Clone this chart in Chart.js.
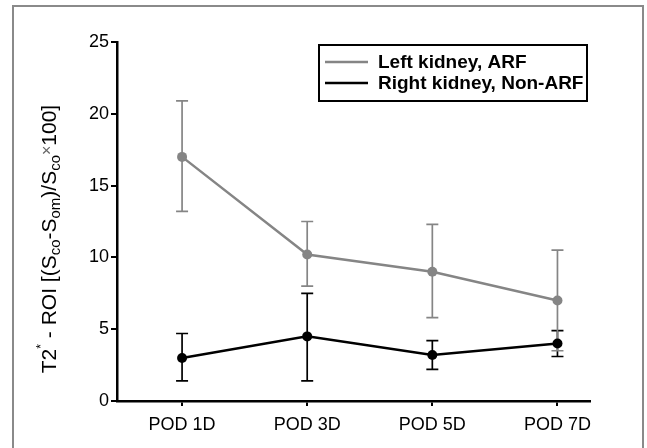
<!DOCTYPE html>
<html>
<head>
<meta charset="utf-8">
<script src="https://cdn.jsdelivr.net/npm/chart.js@4.4.0/dist/chart.umd.min.js"></script>
<style>
  html, body { margin: 0; padding: 0; background: #fff; }
</style>
</head>
<body>
<canvas id="chart" width="647" height="448"></canvas>
<script>
// data
const categories = ['POD 1D', 'POD 3D', 'POD 5D', 'POD 7D'];
const leftMean = [17.0, 10.2, 9.0, 7.0];
const leftLow = [13.2, 8.0, 5.8, 3.5];
const leftHigh = [20.9, 12.5, 12.3, 10.5];
const rightMean = [3.0, 4.5, 3.2, 4.0];
const rightLow = [1.4, 1.4, 2.2, 3.1];
const rightHigh = [4.7, 7.5, 4.2, 4.9];
const yTicks = [0, 5, 10, 15, 20, 25];
const seriesNames = ['Left kidney, ARF', 'Right kidney, Non-ARF'];

const GRAY = '#858585';
const FONT = '"Liberation Sans", Arial, sans-serif';

const toPoints = arr => arr.map((v, i) => ({ x: i, y: v }));

// whiskers drawn through the chart scales
const errorBars = {
  id: 'errorBars',
  beforeDatasetsDraw(chart) {
    const { ctx, scales: { x, y } } = chart;
    // gray first so black stays on top
    [...chart.data.datasets].reverse().forEach(ds => {
      ctx.save();
      ctx.strokeStyle = ds.borderColor;
      ctx.lineWidth = 1.7;
      ds.data.forEach((p, i) => {
        const px = x.getPixelForValue(p.x);
        const top = y.getPixelForValue(ds.errHigh[i]);
        const bot = y.getPixelForValue(ds.errLow[i]);
        ctx.beginPath();
        ctx.moveTo(px, top); ctx.lineTo(px, bot);
        ctx.moveTo(px - 6, top); ctx.lineTo(px + 6, top);
        ctx.moveTo(px - 6, bot); ctx.lineTo(px + 6, bot);
        ctx.stroke();
      });
      ctx.restore();
    });
  }
};

// outer frame, boxed legend, y title with subscripts
const decorations = {
  id: 'decorations',
  afterDraw(chart) {
    const ctx = chart.ctx;
    ctx.save();
    ctx.strokeStyle = '#8a8a8a';
    ctx.lineWidth = 2;
    ctx.strokeRect(13, 6, 630, 470);

    // legend
    ctx.strokeStyle = '#000';
    ctx.lineWidth = 2;
    ctx.strokeRect(319, 45, 268, 56);
    chart.data.datasets.forEach((ds, i) => {
      const ly = 62 + i * 21;
      ctx.strokeStyle = ds.borderColor;
      ctx.lineWidth = 2.5;
      ctx.beginPath();
      ctx.moveTo(325, ly); ctx.lineTo(368, ly);
      ctx.stroke();
      ctx.fillStyle = '#000';
      ctx.font = 'bold 19px ' + FONT;
      ctx.textBaseline = 'middle';
      ctx.fillText(ds.label, 378, ly + 1);
    });

    // y axis title
    const parts = [
      ['T2', 0], ['*', -1], [' - ROI [(S', 0], ['co', 1], ['-S', 0], ['om', 1],
      [')/S', 0], ['co', 1], ['\u00d7', 2], ['100]', 0]
    ];
    const fontFor = k => k === 0 ? '21px ' + FONT
      : k === 2 ? '16px ' + FONT : k === -1 ? '12px ' + FONT : '15px ' + FONT;
    let total = 0;
    parts.forEach(([t, k]) => { ctx.font = fontFor(k); total += ctx.measureText(t).width; });
    ctx.translate(49, 239);
    ctx.rotate(-Math.PI / 2);
    ctx.textBaseline = 'alphabetic';
    let cx = -total / 2;
    parts.forEach(([t, k]) => {
      ctx.font = fontFor(k);
      ctx.fillStyle = k === 2 ? '#666' : '#000';
      const dy = k === 1 ? 11 : k === -1 ? -4 : k === 2 ? 3 : 7;
      ctx.fillText(t, cx, dy);
      cx += ctx.measureText(t).width;
    });
    ctx.restore();
  }
};

new Chart(document.getElementById('chart'), {
  type: 'line',
  data: {
    datasets: [
      {
        label: seriesNames[0],
        data: toPoints(leftMean),
        errLow: leftLow,
        errHigh: leftHigh,
        borderColor: GRAY,
        backgroundColor: GRAY,
        borderWidth: 2.5,
        pointRadius: 5,
        pointBorderWidth: 0,
        order: 1
      },
      {
        label: seriesNames[1],
        data: toPoints(rightMean),
        errLow: rightLow,
        errHigh: rightHigh,
        borderColor: '#000',
        backgroundColor: '#000',
        borderWidth: 2.5,
        pointRadius: 5,
        pointBorderWidth: 0,
        order: 0
      }
    ]
  },
  options: {
    responsive: false,
    animation: false,
    devicePixelRatio: 1,
    layout: { padding: { left: 0, right: 57, top: 42, bottom: 0 } },
    plugins: { legend: { display: false }, tooltip: { enabled: false } },
    scales: {
      x: {
        type: 'linear',
        min: -0.52,
        max: 3.26,
        afterFit: s => { s.height = 47; },
        afterBuildTicks: s => { s.ticks = categories.map((c, i) => ({ value: i })); },
        grid: { display: true, drawOnChartArea: false, color: '#000', lineWidth: 2, tickLength: 5 },
        border: { display: true, color: '#000', width: 2.5 },
        ticks: {
          color: '#000',
          padding: 8,
          maxRotation: 0,
          font: { family: FONT, size: 18 },
          callback: v => categories[v]
        }
      },
      y: {
        min: 0,
        max: 25,
        afterFit: s => { s.width = 117; },
        afterBuildTicks: s => { s.ticks = yTicks.map(v => ({ value: v })); },
        grid: { display: true, drawOnChartArea: false, color: '#000', lineWidth: 2, tickLength: 6 },
        border: { display: true, color: '#000', width: 2.5 },
        ticks: { color: '#000', padding: 2, font: { family: FONT, size: 18 } }
      }
    }
  },
  plugins: [errorBars, decorations]
});
</script>
</body>
</html>
